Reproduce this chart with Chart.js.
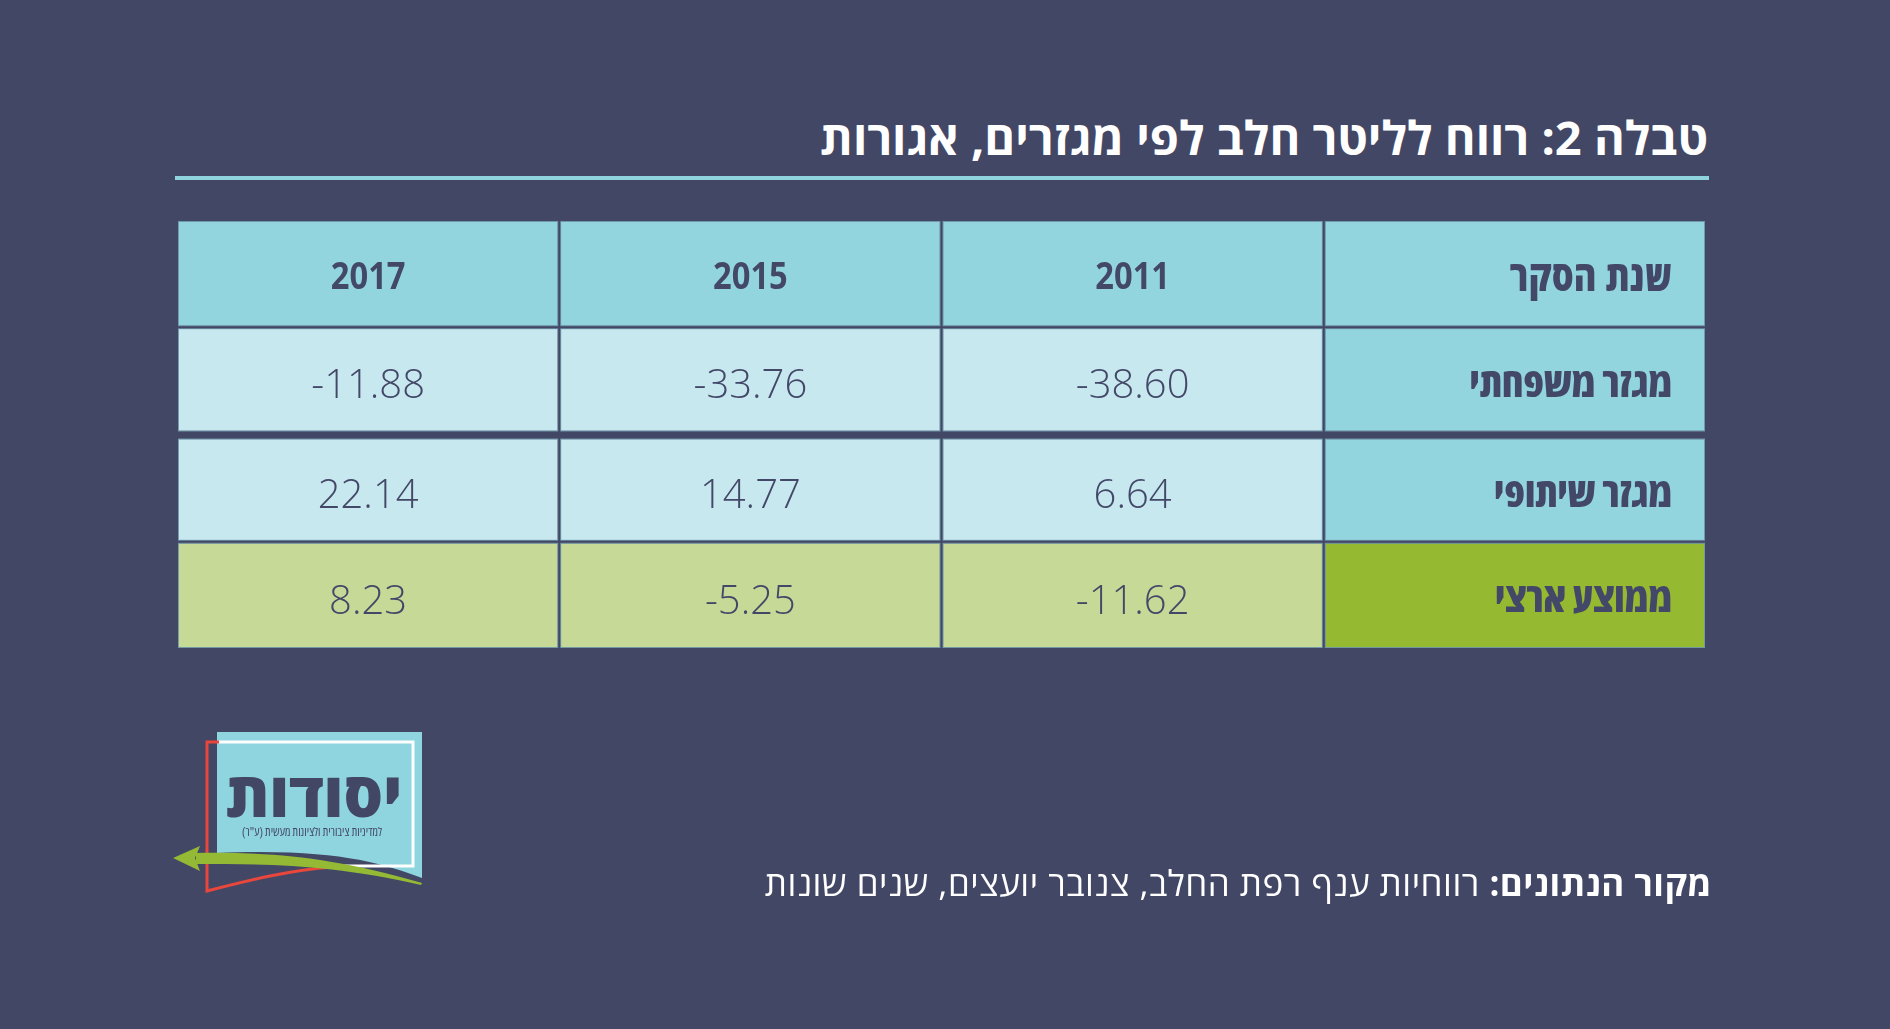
<!DOCTYPE html>
<html lang="he">
<head>
<meta charset="utf-8">
<script src="https://cdn.jsdelivr.net/npm/chart.js@4.4.1/dist/chart.umd.min.js"></script>
<style>
  html, body { margin: 0; padding: 0; background: #434766; }
  #wrap { position: relative; width: 1890px; height: 1029px; overflow: hidden; }
  #tbl { position: absolute; left: 0; top: 0; }
  .title {
    position: absolute; right: 182px; top: 104px;
    font-family: "Open Sans", "Liberation Sans", sans-serif;
    font-weight: 700; font-size: 47px;
    color: #ffffff; direction: rtl; white-space: nowrap; line-height: 66px;
  }
  .rule { position: absolute; left: 175px; top: 176px; width: 1534px; height: 4px; background: #8fd3df; }
  .source {
    position: absolute; right: 178px; top: 861px;
    font-family: "Open Sans", "Liberation Sans", sans-serif;
    font-size: 35px; letter-spacing: 0.5px; color: #ffffff; direction: rtl; white-space: nowrap; line-height: 44px;
  }
  .source b { font-weight: 700; }
  #logo { position: absolute; left: 0; top: 0; }
</style>
</head>
<body>
<div id="wrap">
  <div class="title">טבלה 2: רווח לליטר חלב לפי מגזרים, אגורות</div>
  <div class="rule"></div>
  <canvas id="tbl" width="1890" height="1029"></canvas>
  <svg id="logo" width="1890" height="1029">
    <path d="M217 732 H422 V878 C380 862 330 848 217 853 Z" fill="#8fd5df"/>
    <path d="M217 742 H413 V866 H327" fill="none" stroke="#ffffff" stroke-width="3"/>
    <path d="M219 742 H207 V891 C250 880 290 870 333 867" fill="none" stroke="#e9473b" stroke-width="3"/>
    <path d="M196 853 C270 852 330 856 422 883 L421 885 C330 864 270 864 196 864 Z" fill="#93b935"/>
    <path d="M173 858 L200 846 L195 858 L200 871 Z" fill="#93b935"/>
    <text x="314" y="817" text-anchor="middle" font-family="Open Sans, Liberation Sans, sans-serif" font-weight="800" font-size="62" fill="#434766">יסודות</text>
    <text x="312" y="836" text-anchor="middle" font-family="Open Sans, Liberation Sans, sans-serif" font-size="12" font-stretch="condensed" fill="#434766">למדיניות ציבורית ולציונות מעשית (ע"ר)</text>
  </svg>
  <div class="source"><b>מקור הנתונים:</b> רווחיות ענף רפת החלב, צנובר יועצים, שנים שונות</div>
</div>
<script>
// נתוני הטבלה
const headerLabel = "שנת הסקר";
const years = ["2011", "2015", "2017"];
const sectors = ["מגזר משפחתי", "מגזר שיתופי", "ממוצע ארצי"];
const familyValues = [-38.60, -33.76, -11.88];
const coopValues = [6.64, 14.77, 22.14];
const nationalValues = [-11.62, -5.25, 8.23];

const rowLabels = [headerLabel, ...sectors];
const valueRows = [familyValues, coopValues, nationalValues];

const BG = "#434766";
const INK = "#434868";

function cellColor(row, col) {
  if (row === 0) return "#93d5df";
  if (row === 3) return col === 0 ? "#96b932" : "#c6d996";
  return col === 0 ? "#93d5df" : "#c8e8ef";
}

function cellBorder(row) {
  // רווח עבה יותר בין שורה 1 לשורה 2
  return {
    top: row === 2 ? 5 : 2,
    bottom: row === 1 ? 4 : 2,
    left: 2,
    right: 2
  };
}

// עמודה 0 = עמודת הכותרות (מימין), 1..3 = שנים
const columns = [0, 1, 2, 3];
const datasets = columns.map(col => ({
  label: col === 0 ? headerLabel : years[col - 1],
  data: rowLabels.map(() => [col, col + 1]),
  backgroundColor: ctx => cellColor(ctx.dataIndex, col),
  borderColor: BG,
  borderWidth: ctx => cellBorder(ctx.dataIndex),
  borderSkipped: false,
  categoryPercentage: 1,
  barPercentage: 1
}));

function cellText(row, col) {
  if (row === 0) return col === 0 ? headerLabel : years[col - 1];
  if (col === 0) return sectors[row - 1];
  return valueRows[row - 1][col - 1].toFixed(2);
}

// טקסט צר (הגופן המקורי דחוס)
function narrowText(ctx, txt, x, y, sx) {
  ctx.save();
  ctx.translate(x, y);
  ctx.scale(sx, 1);
  ctx.fillText(txt, 0, 0);
  ctx.restore();
}

const cellTextPlugin = {
  id: "cellText",
  afterDatasetsDraw(chart) {
    const ctx = chart.ctx;
    ctx.save();
    chart.data.datasets.forEach((ds, col) => {
      chart.getDatasetMeta(col).data.forEach((bar, row) => {
        const left = Math.min(bar.x, bar.base);
        const right = Math.max(bar.x, bar.base);
        const bw = cellBorder(row);
        const top = bar.y - bar.height / 2 + bw.top;
        const bottom = bar.y + bar.height / 2 - bw.bottom;
        // קו מתאר דק סביב התא
        ctx.strokeStyle = "rgba(120,165,180,0.8)";
        ctx.lineWidth = 1;
        ctx.strokeRect(left + bw.right - 0.5, top - 0.5, right - left - bw.left - bw.right + 1, bottom - top + 1);

        const txt = cellText(row, col);
        const cy = (top + bottom) / 2 + 7;
        ctx.fillStyle = INK;
        ctx.textBaseline = "middle";
        if (col === 0) {
          ctx.direction = "rtl";
          ctx.textAlign = "right";
          ctx.fontStretch = "semi-condensed";
          ctx.font = "800 42px 'Open Sans', 'Liberation Sans', sans-serif";
          narrowText(ctx, txt, right - 34, cy - 2, row === 0 ? 0.82 : 0.96);
        } else if (row === 0) {
          ctx.direction = "ltr";
          ctx.textAlign = "center";
          ctx.font = "700 38px 'Open Sans', 'Liberation Sans', sans-serif";
          narrowText(ctx, txt, (left + right) / 2, cy - 2, 0.86);
        } else {
          ctx.direction = "ltr";
          ctx.textAlign = "center";
          ctx.fontStretch = "normal";
          ctx.font = "300 40px 'Open Sans', 'Liberation Sans', sans-serif";
          ctx.fillText(txt, (left + right) / 2, cy);
        }
      });
    });
    ctx.restore();
  }
};

new Chart(document.getElementById("tbl"), {
  type: "bar",
  data: { labels: rowLabels, datasets: datasets },
  options: {
    indexAxis: "y",
    responsive: false,
    animation: false,
    layout: { padding: { left: 177, right: 184, top: 220, bottom: 380 } },
    scales: {
      x: { type: "linear", min: 0, max: 4, reverse: true, display: false, stacked: false },
      y: { type: "category", display: false, stacked: true }
    },
    plugins: {
      legend: { display: false },
      tooltip: { enabled: false }
    }
  },
  plugins: [cellTextPlugin]
});
</script>
</body>
</html>
